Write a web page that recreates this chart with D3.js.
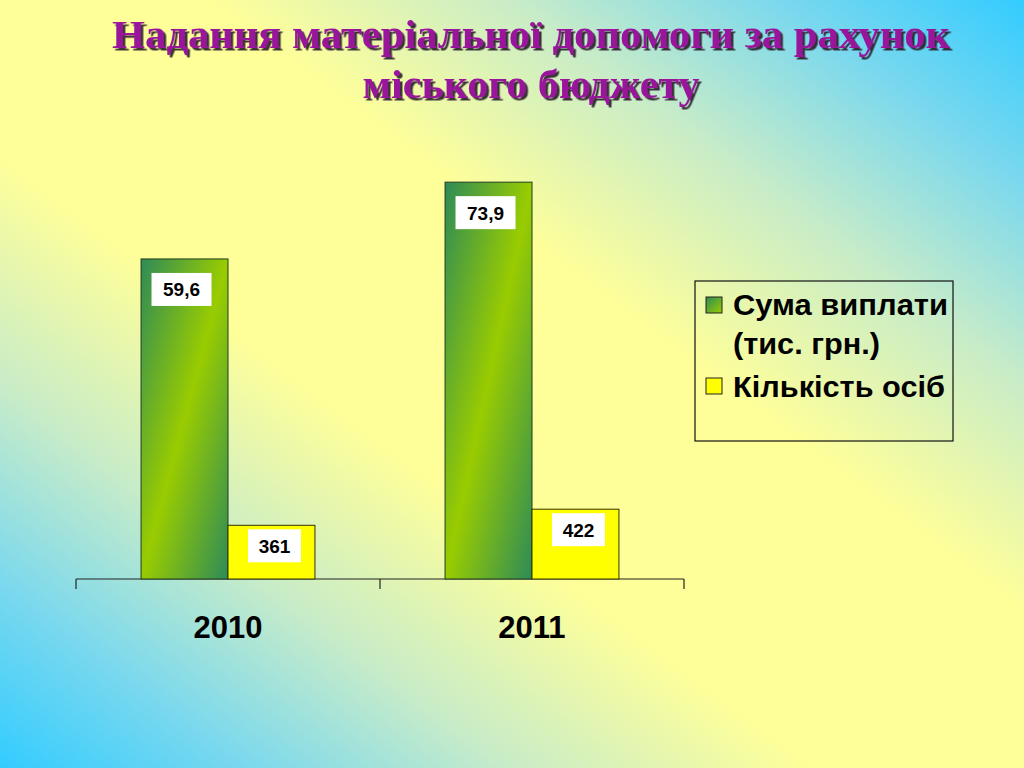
<!DOCTYPE html>
<html>
<head>
<meta charset="utf-8">
<script src="https://cdn.jsdelivr.net/npm/d3@7"></script>
<style>
  html, body { margin: 0; padding: 0; width: 1024px; height: 768px; overflow: hidden; }
  svg { display: block; }
</style>
</head>
<body>
<svg id="chart" width="1024" height="768"></svg>
<script>
// ---- data ----
const titleLines = ["Надання матеріальної допомоги за рахунок", "міського бюджету"];
const years = ["2010", "2011"];
const seriesNames = ["Сума виплати (тис. грн.)", "Кількість осіб"];
const legendLines = [["Сума виплати", "(тис. грн.)"], ["Кількість осіб"]];
const sumaValues = [59.6, 73.9];          // тис. грн.
const sumaLabels = ["59,6", "73,9"];
const kilkistBarValues = [10, 13];        // bar heights as drawn (primary-axis units)
const kilkistLabels = ["361", "422"];

const svg = d3.select("#chart");
const W = 1024, H = 768;
const defs = svg.append("defs");

// background gradient
const bg = defs.append("linearGradient").attr("id", "bg")
  .attr("x1", 1).attr("y1", 0).attr("x2", 0).attr("y2", 1);
[[0, "#33ccff"], [0.12, "#7ad8ee"], [0.25, "#c8ecc8"], [0.4, "#ffff99"], [0.6, "#ffff99"],
 [0.75, "#c8ecc8"], [0.88, "#7ad8ee"], [1, "#33ccff"]]
  .forEach(([o, c]) => bg.append("stop").attr("offset", o).attr("stop-color", c));
svg.append("rect").attr("width", W).attr("height", H).attr("fill", "url(#bg)");

// green bar gradient
const gg = defs.append("linearGradient").attr("id", "green")
  .attr("x1", 0).attr("y1", 0).attr("x2", 1).attr("y2", 1);
[[0, "#2e8b57"], [0.5, "#99cc00"], [1, "#2e8b57"]]
  .forEach(([o, c]) => gg.append("stop").attr("offset", o).attr("stop-color", c));
const gl = defs.append("linearGradient").attr("id", "greenLeg")
  .attr("x1", 0).attr("y1", 0).attr("x2", 1).attr("y2", 1);
[[0, "#2e8b57"], [1, "#99cc00"]]
  .forEach(([o, c]) => gl.append("stop").attr("offset", o).attr("stop-color", c));

// title shadow filter
const f = defs.append("filter").attr("id", "shadow")
  .attr("x", "-5%").attr("y", "-20%").attr("width", "110%").attr("height", "150%");
f.append("feDropShadow").attr("dx", 2.5).attr("dy", 2.5).attr("stdDeviation", 0.6)
  .attr("flood-color", "#2a1a2a").attr("flood-opacity", 0.9);

// title
const titleY = [48, 98];
const titleW = [838, 337];
svg.append("g").selectAll("text").data(titleLines).enter().append("text")
  .attr("x", 531).attr("y", (d, i) => titleY[i])
  .attr("text-anchor", "middle")
  .attr("font-family", "'Liberation Serif', 'Times New Roman', serif")
  .attr("font-weight", "bold").attr("font-size", 41)
  .attr("textLength", (d, i) => titleW[i]).attr("lengthAdjust", "spacingAndGlyphs")
  .attr("fill", "#99169c").attr("filter", "url(#shadow)")
  .text(d => d);

// scales
const baseY = 579;
const x = d3.scaleBand().domain(years).range([76, 684]).padding(0);
const groupW = x.bandwidth() * 0.572;
const xs = d3.scaleBand().domain(seriesNames).range([0, groupW]).padding(0);
const y = d3.scaleLinear().domain([0, 80]).range([baseY, baseY - 80 * 5.37]);

const plot = svg.append("g");

// axis
const axG = plot.append("g").attr("transform", `translate(0,${baseY})`);
axG.append("path").attr("d", `M${x.range()[0]},0H${x.range()[1]}`)
  .attr("stroke", "#222").attr("stroke-width", 1.2).attr("fill", "none");
const tickPos = [x.range()[0], ...years.map(d => x(d) + x.bandwidth())];
axG.selectAll("line.tick").data(tickPos).enter().append("line")
  .attr("x1", d => d).attr("x2", d => d).attr("y1", 0).attr("y2", 10)
  .attr("stroke", "#222").attr("stroke-width", 1.2);

const groupX = d => x(d) + (x.bandwidth() - groupW) / 2;

// bars
const sumaData = years.map((yr, i) => ({ yr, v: sumaValues[i], label: sumaLabels[i] }));
const kilData = years.map((yr, i) => ({ yr, v: kilkistBarValues[i], label: kilkistLabels[i] }));

plot.selectAll("rect.suma").data(sumaData).enter().append("rect")
  .attr("x", d => groupX(d.yr) + xs(seriesNames[0]))
  .attr("y", d => y(d.v))
  .attr("width", xs.bandwidth())
  .attr("height", d => baseY - y(d.v))
  .attr("fill", "url(#green)").attr("stroke", "#1f3d1f").attr("stroke-width", 1);

plot.selectAll("rect.kil").data(kilData).enter().append("rect")
  .attr("x", d => groupX(d.yr) + xs(seriesNames[1]))
  .attr("y", d => y(d.v))
  .attr("width", xs.bandwidth())
  .attr("height", d => baseY - y(d.v))
  .attr("fill", "#ffff00").attr("stroke", "#333300").attr("stroke-width", 1);

// value labels
function labels(data, s, boxW, dx, dy) {
  const g = plot.selectAll("g.lbl-" + s).data(data).enter().append("g")
    .attr("transform", d => `translate(${groupX(d.yr) + xs(seriesNames[s]) + xs.bandwidth() / 2 + dx},${y(d.v) + dy})`);
  g.append("rect").attr("x", -boxW / 2).attr("y", 0).attr("width", boxW).attr("height", 33).attr("fill", "#ffffff");
  g.append("text").attr("x", 0).attr("y", 23.5).attr("text-anchor", "middle")
    .attr("font-family", "'Liberation Sans', Arial, sans-serif").attr("font-weight", "bold")
    .attr("font-size", 19).attr("fill", "#000").text(d => d.label);
}
labels(sumaData, 0, 60, -3, 14);
labels(kilData, 1, 53, 3, 4);

// category labels
plot.selectAll("text.cat").data(years).enter().append("text")
  .attr("x", d => groupX(d) + groupW / 2).attr("y", 638)
  .attr("text-anchor", "middle")
  .attr("font-family", "'Liberation Sans', Arial, sans-serif").attr("font-weight", "bold")
  .attr("font-size", 31).attr("fill", "#000").text(d => d);

// legend
const leg = svg.append("g");
leg.append("rect").attr("x", 695).attr("y", 281).attr("width", 258).attr("height", 160)
  .attr("fill", "none").attr("stroke", "#111").attr("stroke-width", 1.2);
const legItems = [
  { fill: "url(#greenLeg)", lines: legendLines[0], sy: 297, ty: [315, 354], tw: [215, 147] },
  { fill: "#ffff00", lines: legendLines[1], sy: 378, ty: [397], tw: [212] }
];
legItems.forEach(it => {
  leg.append("rect").attr("x", 706).attr("y", it.sy).attr("width", 16).attr("height", 16)
    .attr("fill", it.fill).attr("stroke", "#222").attr("stroke-width", 1);
  it.lines.forEach((l, j) => {
    leg.append("text").attr("x", 733).attr("y", it.ty[j])
      .attr("font-family", "'Liberation Sans', Arial, sans-serif").attr("font-weight", "bold")
      .attr("font-size", 29).attr("textLength", it.tw[j]).attr("lengthAdjust", "spacingAndGlyphs")
      .attr("fill", "#000").text(l);
  });
});
</script>
</body>
</html>
